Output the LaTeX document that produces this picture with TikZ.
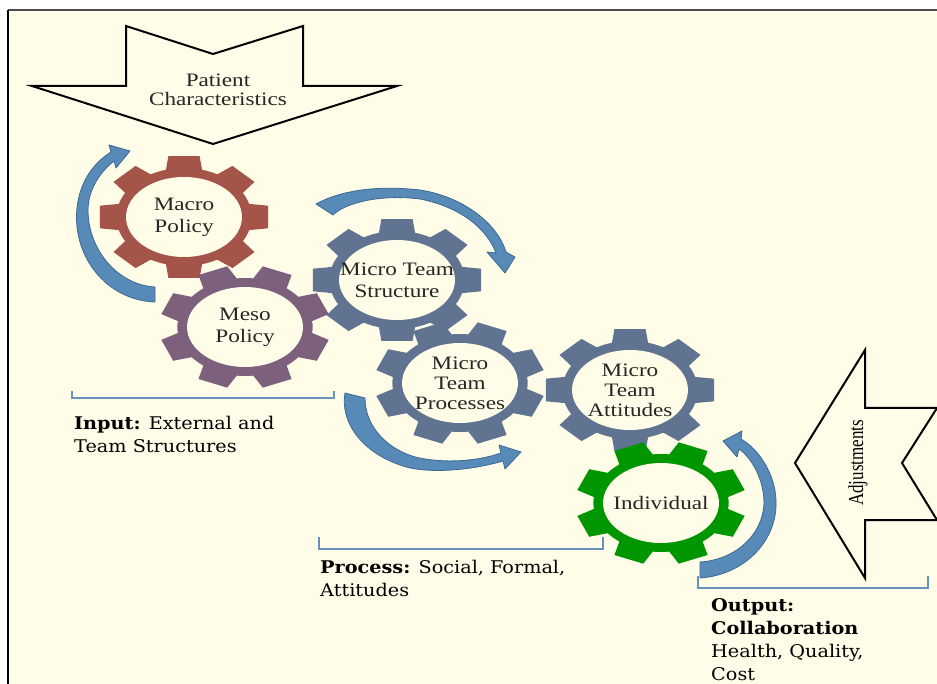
\documentclass[tikz,border=0pt]{standalone}
\usepackage{fontspec}
\setmainfont{Liberation Serif}
\newfontfamily\gearfont[FakeStretch=1.22]{Liberation Serif}
\newfontfamily\notefont[FakeStretch=1.1]{DejaVu Serif}

\definecolor{paper}{RGB}{255,253,232}
\definecolor{macrored}{RGB}{165,84,74}
\definecolor{mesopurple}{RGB}{124,96,124}
\definecolor{microblue}{RGB}{96,116,146}
\definecolor{indgreen}{RGB}{0,150,0}
\definecolor{arrowblue}{RGB}{88,138,184}
\definecolor{arrowedge}{RGB}{60,104,148}
\definecolor{bracketblue}{RGB}{104,146,190}

\tikzset{
  gearlabel/.style={font=\gearfont\fontsize{19}{22}\selectfont, text=black!85, align=center, inner sep=0pt},
  notetext/.style={font=\notefont\fontsize{17.5}{23.5}\selectfont, align=left, anchor=north west, inner sep=0pt},
  bracket/.style={draw=bracketblue, line width=2.5pt},
  curlarrow/.style={fill=arrowblue, draw=arrowedge, line width=0.8pt, line join=round},
  bigarrow/.style={draw=black, line width=2pt},
}

% name, x, y, colour, turn, label
\newcommand{\gear}[6]{%
  \begin{scope}[shift={(#2,#3)}, xscale=1.38]
    \fill[#4] (#5-15.5:49) \foreach \a in {0,45,...,315}{
      -- (#5+\a-15.5:49) -- (#5+\a-10.5:62) -- (#5+\a+10.5:62) -- (#5+\a+15.5:49)
      arc[start angle=#5+\a+15.5, end angle=#5+\a+29.5, radius=49]} -- cycle;
    \fill[paper] (0,0) ellipse[x radius=42, y radius=40];
  \end{scope}
  \node[gearlabel] (#1) at (#2,#3) {#6};}

\begin{document}
\begin{tikzpicture}[x=1pt, y=-1pt]
  \useasboundingbox (0,0) rectangle (937,684);
  \fill[white] (0,0) rectangle (937,684);
  \fill[paper] (8,10) rectangle (937,684);
  \draw[black!70, line width=1.5pt] (8,10) -- (937,10);
  \draw[black, line width=1.5pt] (8,10) -- (8,684);

  % input arrow on top
  \draw[bigarrow] (126,26) -- (213,54) -- (303,26) -- (303,86) -- (397,86)
    -- (213,144) -- (32,86) -- (126,86) -- cycle;
  \node[gearlabel] (patient) at (218,90) {Patient\\[-3pt]Characteristics};

  % the gears
  \gear{macro}{184}{217}{macrored}{0}{Macro\\Policy}
  \gear{meso}{245}{327}{mesopurple}{22.5}{Meso\\Policy}
  \gear{structure}{397}{280}{microblue}{0}{Micro Team\\Structure}
  \gear{processes}{460}{383}{microblue}{22.5}{Micro\\[-2pt]Team\\[-2pt]Processes}
  \gear{attitudes}{630}{390}{microblue}{0}{Micro\\[-2pt]Team\\[-2pt]Attitudes}
  \gear{individual}{661}{503}{indgreen}{22.5}{Individual}

  % curved arrows
  \filldraw[curlarrow] (155,302) .. controls (105,300) and (72,255) .. (77,208)
    .. controls (80,180) and (95,162) .. (111,152) -- (109,145) -- (130,151)
    -- (116,168) -- (114,161) .. controls (100,172) and (88,190) .. (88,210)
    .. controls (88,250) and (118,285) .. (155,287) -- cycle;
  \filldraw[curlarrow] (316,204) .. controls (345,188) and (385,186) .. (420,190)
    .. controls (465,197) and (498,225) .. (506,252) -- (515,257) -- (505,273)
    -- (487,252) -- (496,253) .. controls (488,232) and (465,208) .. (420,199)
    .. controls (380,194) and (345,203) .. (333,215) -- cycle;
  \filldraw[curlarrow] (345,393) .. controls (340,420) and (360,455) .. (410,468)
    .. controls (440,474) and (480,468) .. (503,461) -- (505,469) -- (521,452)
    -- (499,445) -- (501,453) .. controls (478,461) and (445,464) .. (415,457)
    .. controls (385,448) and (365,425) .. (365,398) -- cycle;
  \filldraw[curlarrow] (700,578) .. controls (745,575) and (778,540) .. (776,500)
    .. controls (775,475) and (760,450) .. (741,439) -- (742,431) -- (723,441)
    -- (737,457) -- (739,449) .. controls (752,458) and (764,480) .. (764,503)
    .. controls (763,535) and (735,560) .. (700,562) -- cycle;

  % brackets and notes
  \draw[bracket] (72,391) -- (72,398) -- (334,398) -- (334,391);
  \draw[bracket] (319,537) -- (319,549) -- (603,549) -- (603,537);
  \draw[bracket] (698,576) -- (698,588) -- (928,588) -- (928,576);
  \node[notetext] (input) at (74,416) {\textbf{Input:} External and\\Team Structures};
  \node[notetext] (process) at (320,560) {\textbf{Process:} Social, Formal,\\Attitudes};
  \node[notetext, font=\notefont\fontsize{17.5}{23}\selectfont] (output) at (711,598)
    {\textbf{Output:}\\\textbf{Collaboration}\\Health, Quality,\\Cost};

  % feedback arrow on the right
  \draw[bigarrow] (795,463) -- (865,350) -- (865,408) -- (937,408) -- (902,463)
    -- (937,520) -- (865,520) -- (865,578) -- cycle;
  \node[rotate=90, font=\fontsize{17}{20}\selectfont, inner sep=0pt] (adjust) at (858,463)
    {\scalebox{1}[1.25]{Adjustments}};
\end{tikzpicture}
\end{document}
